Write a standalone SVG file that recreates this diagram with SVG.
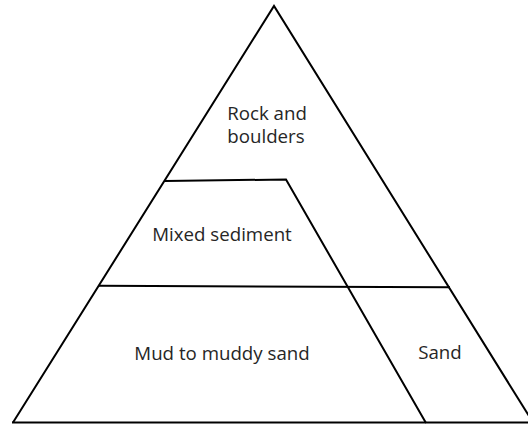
<svg xmlns="http://www.w3.org/2000/svg" width="528" height="430" viewBox="0 0 528 430">
<style>
.ln{stroke:#000;stroke-width:2;fill:none;stroke-linejoin:miter}
.t{font-family:"Open Sans","Noto Sans",sans-serif;font-size:18.7px;fill:#262626;text-anchor:middle}
</style>
<rect width="528" height="430" fill="#fff"/>
<g id="connectors">
<polyline class="ln" points="13,422.5 274,6 533,422.5"/>
<line class="ln" x1="12" y1="422.5" x2="528" y2="422.5" stroke-width="2.5"/>
<polyline class="ln" points="165,181 286,179.5 426,423"/>
<line class="ln" x1="99" y1="285.7" x2="450" y2="287.3"/>
</g>
<g id="rock"><text class="t" x="267" y="120"><tspan x="267">Rock and</tspan><tspan x="266" dy="23">boulders</tspan></text></g>
<g id="mixed"><text class="t" x="222" y="241">Mixed sediment</text></g>
<g id="mud"><text class="t" x="222" y="360">Mud to muddy sand</text></g>
<g id="sand"><text class="t" x="440" y="359">Sand</text></g>
</svg>
